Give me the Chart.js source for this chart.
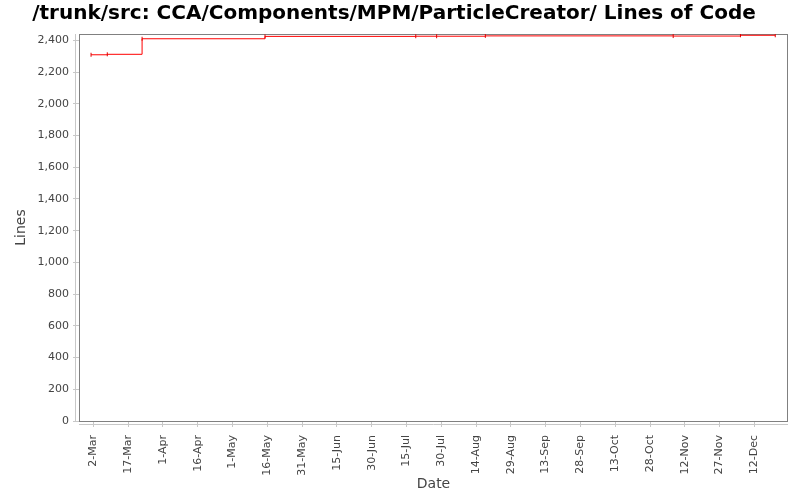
<!DOCTYPE html>
<html>
<head>
<meta charset="utf-8">
<script src="https://cdn.jsdelivr.net/npm/chart.js@4/dist/chart.umd.min.js"></script>
<style>
  body { margin: 0; background: #fff; }
  #wrap { width: 800px; height: 500px; }
</style>
</head>
<body>
<div id="wrap"><canvas id="chart" width="800" height="500"></canvas></div>
<script>
// data
const year = 2007;
const dates = ["1-Mar", "8-Mar", "23-Mar", "15-May", "19-Jul", "28-Jul", "18-Aug", "7-Nov", "6-Dec", "21-Dec"];
const lines = [2309, 2312, 2410, 2425, 2426, 2426, 2428, 2427, 2432, 2432];
const tickLabels = ["2-Mar", "17-Mar", "1-Apr", "16-Apr", "1-May", "16-May", "31-May", "15-Jun", "30-Jun",
  "15-Jul", "30-Jul", "14-Aug", "29-Aug", "13-Sep", "28-Sep", "13-Oct", "28-Oct", "12-Nov", "27-Nov", "12-Dec"];
const yTicks = [0, 200, 400, 600, 800, 1000, 1200, 1400, 1600, 1800, 2000, 2200, 2400];
const xStart = "24-Feb";
const xEnd = "26-Dec";
const yMax = 2440;

const months = { Jan: 0, Feb: 1, Mar: 2, Apr: 3, May: 4, Jun: 5, Jul: 6, Aug: 7, Sep: 8, Oct: 9, Nov: 10, Dec: 11 };

// day number from "d-Mon"
function dayOf(s) {
  const [d, m] = s.split("-");
  return Date.UTC(year, months[m], +d) / 86400000;
}

const tickDays = tickLabels.map(dayOf);
const labelByDay = {};
tickLabels.forEach((l, i) => labelByDay[tickDays[i]] = l);

const points = dates.map((d, i) => ({ x: dayOf(d), y: lines[i] }));

// plot frame + offset axis lines like the original
const frame = {
  id: "frame",
  beforeDatasetsDraw(chart) {
    const { ctx, chartArea: a } = chart;
    ctx.save();
    ctx.strokeStyle = "#c8c8c8";
    ctx.lineWidth = 1;
    ctx.beginPath();
    ctx.moveTo(a.left - 3.5, a.top);
    ctx.lineTo(a.left - 3.5, a.bottom + 0.5);
    ctx.moveTo(a.left, a.bottom + 3.5);
    ctx.lineTo(a.right, a.bottom + 3.5);
    ctx.stroke();
    ctx.strokeStyle = "#808080";
    ctx.strokeRect(a.left + 0.5, a.top + 0.5, a.right - a.left - 1, a.bottom - a.top);
    ctx.restore();
  }
};

const font = "'DejaVu Sans', sans-serif";

new Chart(document.getElementById("chart"), {
  type: "line",
  data: {
    datasets: [{
      data: points,
      borderColor: "#ff0000",
      borderWidth: 1,
      stepped: true,
      pointStyle: "line",
      rotation: 90,
      pointRadius: 2,
      pointBorderColor: "#e00000",
      pointBorderWidth: 1
    }]
  },
  options: {
    responsive: false,
    animation: false,
    layout: { padding: { left: 0, right: 12, top: 0, bottom: 0 } },
    plugins: {
      legend: { display: false },
      tooltip: { enabled: false },
      title: {
        display: true,
        text: "/trunk/src: CCA/Components/MPM/ParticleCreator/ Lines of Code",
        color: "#000",
        font: { family: font, size: 20, weight: "bold", lineHeight: 1.2 },
        padding: { top: 2, bottom: 8 }
      }
    },
    scales: {
      x: {
        type: "linear",
        min: dayOf(xStart) - 0.2,
        max: dayOf(xEnd) + 0.5,
        afterBuildTicks: s => { s.ticks = tickDays.map(v => ({ value: v })); },
        afterFit: s => { s.height = 79; },
        border: { display: false },
        grid: { drawOnChartArea: false, tickLength: 6, color: "#c8c8c8" },
        ticks: {
          autoSkip: false,
          minRotation: 90,
          maxRotation: 90,
          padding: 8,
          color: "#444",
          font: { family: font, size: 11 },
          callback: v => labelByDay[v] || ""
        },
        title: {
          display: true,
          text: "Date",
          color: "#444",
          font: { family: font, size: 14 },
          padding: { top: 0, bottom: 7.6 }
        }
      },
      y: {
        min: 0,
        max: yMax,
        afterBuildTicks: s => { s.ticks = yTicks.map(v => ({ value: v })); },
        afterFit: s => { s.width = 79; },
        border: { display: false },
        grid: { drawOnChartArea: false, tickLength: 6, color: "#c8c8c8" },
        ticks: {
          autoSkip: false,
          padding: 4,
          color: "#444",
          font: { family: font, size: 11 },
          callback: v => v.toLocaleString("en-US")
        },
        title: {
          display: true,
          text: "Lines",
          color: "#444",
          font: { family: font, size: 14 },
          padding: { top: 12.6, bottom: 0 }
        }
      }
    }
  },
  plugins: [frame]
});
</script>
</body>
</html>
